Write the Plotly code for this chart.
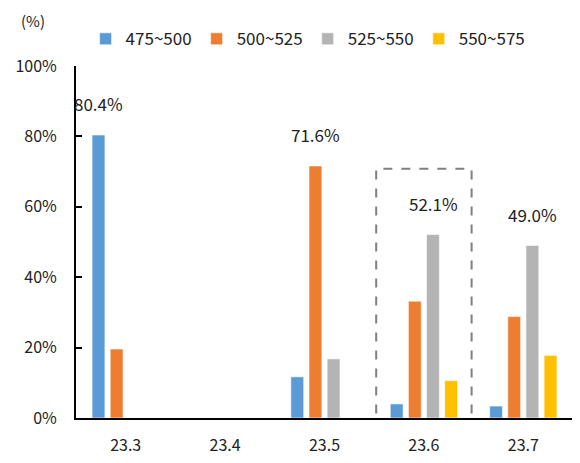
import plotly.graph_objects as go

months = ["23.3", "23.4", "23.5", "23.6", "23.7"]
series_names = ["475~500", "500~525", "525~550", "550~575"]
colors = ["#5B9BD5", "#ED7D31", "#B4B4B4", "#FFC000"]

share_475 = [80.4, None, 11.7, 4.0, 3.4]
share_500 = [19.6, None, 71.6, 33.2, 28.8]
share_525 = [None, None, 16.8, 52.1, 49.0]
share_550 = [None, None, None, 10.6, 17.8]

y_ticks = [0, 20, 40, 60, 80, 100]
y_ticktext = ["0%", "20%", "40%", "60%", "80%", "100%"]

# which bars get a value label (series index -> month indices)
labelled = {0: [0], 1: [2], 2: [3, 4], 3: []}

font = "Noto Sans CJK KR, Noto Sans, sans-serif"

W, H = 572, 455   # page body adds 8px around the plot
ML, MR, MT, MB = 63, 7, 58, 36
BARGAP = 0.27

all_series = [share_475, share_500, share_525, share_550]

fig = go.Figure()
for i, vals in enumerate(all_series):
    fig.add_trace(go.Bar(
        x=months, y=vals, name=series_names[i],
        marker=dict(color=colors[i], line=dict(color="rgba(255,255,255,0.6)", width=1)),
        hoverinfo="x+y+name",
    ))

# value labels float a bit above their bar
# (category index used for x, since "23.3" etc. would be read as numbers)
slot = (W - ML - MR) / len(months) * (1 - BARGAP) / len(all_series)
for i, idx in labelled.items():
    for j in idx:
        v = all_series[i][j]
        fig.add_annotation(x=j, y=v, text=f"{v:.1f}%", showarrow=False,
                           xshift=(i - 1.5) * slot, yshift=31, yanchor="middle",
                           font=dict(size=17, color="#222"))

# dashed box around the 23.6 group
fig.add_shape(type="rect", xref="x", yref="y",
              x0=3 - 0.48, x1=3 + 0.48, y0=-2.3, y1=70.8,
              line=dict(color="#808080", width=2, dash="dash"))

fig.add_annotation(text="(%)", xref="paper", yref="paper", x=-0.086, y=1.129,
                   xanchor="center", yanchor="middle",
                   showarrow=False, font=dict(size=15, color="#222"))

fig.update_layout(
    width=W, height=H,
    margin=dict(l=ML, r=MR, t=MT, b=MB),
    barmode="group", bargap=BARGAP, bargroupgap=0.29,
    plot_bgcolor="white", paper_bgcolor="white",
    font=dict(family=font, size=16, color="#222"),
    showlegend=True,
    legend=dict(orientation="h", x=0.467, xanchor="center", y=1.076, yanchor="middle",
                font=dict(size=17), itemclick=False),
)
fig.update_xaxes(type="category", range=[-0.5, len(months) - 0.5],
                 showline=True, linecolor="black", linewidth=2, ticks="",
                 ticklabelstandoff=12, showgrid=False)
fig.update_yaxes(range=[0, 100], tickvals=y_ticks, ticktext=y_ticktext,
                 showline=True, linecolor="black", linewidth=2, ticks="inside",
                 ticklen=6, tickwidth=2, tickcolor="black", ticklabelstandoff=14,
                 showgrid=False, zeroline=False)

fig.write_html("out.html")
